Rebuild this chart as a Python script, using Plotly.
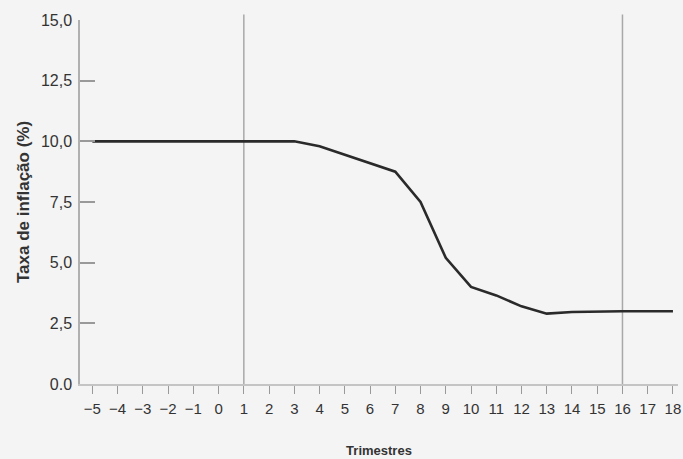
import plotly.graph_objects as go

# Data
quarters = list(range(-5, 19))
inflation = [10.0, 10.0, 10.0, 10.0, 10.0, 10.0, 10.0, 10.0, 10.0,
             9.8, 9.45, 9.1, 8.75, 7.5, 5.2, 4.0, 3.65, 3.2, 2.9,
             2.97, 3.0, 3.0, 3.0, 3.0]
x_tick_vals = list(range(-5, 19))
x_tick_text = ["\u22125", "\u22124", "\u22123", "\u22122", "\u22121"] + [str(v) for v in range(0, 19)]
y_tick_vals = [0, 2.5, 5, 7.5, 10, 12.5, 15]
y_tick_text = ["0.0", "2,5", "5,0", "7,5", "10,0", "12,5", "15,0"]
marker_quarters = [1, 16]

FONT = "Liberation Sans, Arial, Helvetica, sans-serif"
fig = go.Figure()

fig.add_trace(go.Scatter(
    x=quarters, y=inflation, mode="lines",
    line=dict(color="#2a2a2a", width=2.6),
    showlegend=False, hoverinfo="skip"))

for q in marker_quarters:
    fig.add_shape(type="line", x0=q, x1=q, xref="x", y0=0, y1=1.015, yref="paper",
                  line=dict(color="#a8a8a8", width=1.5), layer="below")

fig.update_layout(
    width=683, height=459,
    margin=dict(l=80, r=5, t=20, b=75, autoexpand=False),
    paper_bgcolor="#f4f4f4", plot_bgcolor="#f4f4f4",
    font=dict(family=FONT, color="#333333", size=13),
    xaxis=dict(
        range=[-5.49, 18.2], tickmode="array", tickvals=x_tick_vals, ticktext=x_tick_text,
        showgrid=False, zeroline=False, showline=True, linecolor="#c4c4c4", linewidth=1.5,
        ticks="outside", ticklen=8, tickcolor="#999999", tickwidth=1,
        tickfont=dict(size=15, color="#333333"), ticklabelstandoff=2, automargin=False,
        title=dict(text="<b>Trimestres</b>", font=dict(size=13, color="#333333"), standoff=30),
    ),
    yaxis=dict(
        range=[0, 15], tickmode="array", tickvals=y_tick_vals, ticktext=y_tick_text,
        showgrid=False, zeroline=False, showline=True, linecolor="#b0b0b0", linewidth=1.5,
        ticks="inside", ticklen=15, tickcolor="#999999", tickwidth=1.5,
        tickfont=dict(size=16, color="#333333"), ticklabelstandoff=3, automargin=False,
        title=dict(text="<b>Taxa de inflação (%)</b>", font=dict(size=17, color="#333333"), standoff=7),
    ),
)

fig.write_html(
    "out.html",
    config={"displayModeBar": False},
    post_script="document.body.style.margin='0';document.body.style.overflow='hidden';",
)
